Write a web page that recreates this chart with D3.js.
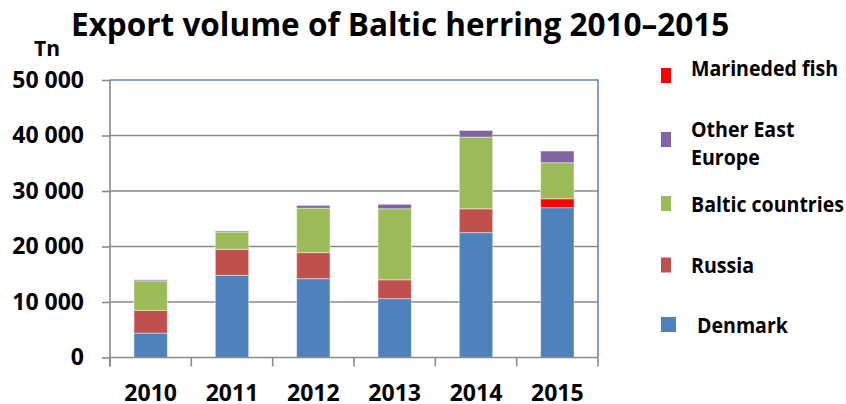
<!DOCTYPE html>
<html>
<head>
<meta charset="utf-8">
<script src="https://cdn.jsdelivr.net/npm/d3@7"></script>
<style>
  html, body { margin: 0; padding: 0; background: #fff; }
  svg { display: block; font-family: "Open Sans", "Noto Sans", sans-serif; font-weight: 700; }
</style>
</head>
<body>
<svg id="chart" width="846" height="404"></svg>
<script>
// Export volume of Baltic herring by destination, tonnes
const years = ["2010", "2011", "2012", "2013", "2014", "2015"];
const denmark  = [4400, 14800, 14200, 10600, 22500, 27000];
const russia   = [4100,  4700,  4700,  3400,  4300,     0];
const marined  = [   0,     0,     0,     0,     0,  1600];
const baltic   = [5300,  3100,  8000, 12800, 12900,  6500];
const otherEE  = [ 200,   200,   500,   800,  1200,  2100];
const yTicks = [0, 10000, 20000, 30000, 40000, 50000];

// stacking order, bottom to top
const series = [
  { key: "denmark", name: "Denmark",  values: denmark, color: "#4F81BD" },
  { key: "russia",  name: "Russia",   values: russia,  color: "#C0504D" },
  { key: "marined", name: "Marineded fish", values: marined, color: "#FF0000" },
  { key: "baltic",  name: "Baltic countries", values: baltic, color: "#9BBB59" },
  { key: "other",   name: "Other East Europe", values: otherEE, color: "#8064A2" }
];

// legend order, top to bottom
const legendItems = [
  { lines: ["Marineded fish"], color: "#FF0000" },
  { lines: ["Other East", "Europe"], color: "#8064A2" },
  { lines: ["Baltic countries"], color: "#9BBB59" },
  { lines: ["Russia"], color: "#C0504D" },
  { lines: ["Denmark"], color: "#4F81BD", big: true }
];

const svg = d3.select("#chart");
const plot = { left: 110, right: 598, top: 80, bottom: 357.5 };

const x = d3.scaleBand().domain(years).range([plot.left, plot.right]).padding(0);
const y = d3.scaleLinear().domain([0, 50000]).range([plot.bottom, plot.top]);
const barW = x.bandwidth() * 0.41;

const rows = years.map((yr, i) => {
  const r = { year: yr };
  series.forEach(s => r[s.key] = s.values[i]);
  return r;
});
const stacked = d3.stack().keys(series.map(s => s.key))(rows);

// horizontal gridlines
svg.append("g").selectAll("line")
  .data(yTicks.filter(t => t > 0 && t < 50000))
  .join("line")
  .attr("x1", plot.left).attr("x2", plot.right)
  .attr("y1", d => y(d)).attr("y2", d => y(d))
  .attr("stroke", "#8a8a8a").attr("stroke-width", 1.6);

// plot frame: top and right in blue
svg.append("path")
  .attr("d", `M${plot.left},${y(50000)}H${plot.right}V${plot.bottom}`)
  .attr("fill", "none").attr("stroke", "#5B87C5").attr("stroke-width", 1.6);

// bars
const colorOf = Object.fromEntries(series.map(s => [s.key, s.color]));
svg.append("g").selectAll("g")
  .data(stacked)
  .join("g")
  .attr("fill", d => colorOf[d.key])
  .selectAll("rect")
  .data(d => d.filter(p => p[1] - p[0] > 0))
  .join("rect")
  .attr("x", d => x(d.data.year) + (x.bandwidth() - barW) / 2)
  .attr("width", barW)
  .attr("y", d => y(d[1]))
  .attr("height", d => y(d[0]) - y(d[1]))
  .attr("stroke", "rgba(255,255,255,0.45)")
  .attr("stroke-width", 1);

// y axis
const yAxis = svg.append("g")
  .attr("transform", `translate(${plot.left},0)`)
  .call(d3.axisLeft(y).tickValues(yTicks).tickSize(8).tickPadding(18)
    .tickFormat(d => d3.format(",")(d).replace(/,/g, " ")));
yAxis.select(".domain").attr("stroke", "#8a8a8a").attr("stroke-width", 1.6)
  .attr("d", `M0,${plot.top}V${plot.bottom + 9}`);
yAxis.selectAll(".tick line").attr("stroke", "#8a8a8a").attr("stroke-width", 1.6);
yAxis.selectAll(".tick text")
  .attr("fill", "#000").attr("font-size", 23).attr("font-weight", 700)
  .attr("font-family", "Open Sans, sans-serif");

// x axis
const xAxis = svg.append("g")
  .attr("transform", `translate(0,${plot.bottom})`)
  .call(d3.axisBottom(x).tickSize(0));
xAxis.select(".domain").attr("stroke", "#8a8a8a").attr("stroke-width", 1.6)
  .attr("d", `M${plot.left},0H${plot.right}`);
xAxis.selectAll(".tick text")
  .attr("y", 43.5).attr("dy", 0)
  .attr("fill", "#000").attr("font-size", 23).attr("font-weight", 700)
  .attr("font-family", "Open Sans, sans-serif");
// category boundary ticks
svg.append("g").selectAll("line")
  .data(d3.range(years.length + 1))
  .join("line")
  .attr("x1", i => plot.left + i * x.step())
  .attr("x2", i => plot.left + i * x.step())
  .attr("y1", plot.bottom).attr("y2", plot.bottom + 9)
  .attr("stroke", "#8a8a8a").attr("stroke-width", 1.6);

// title and unit
svg.append("text")
  .attr("x", 71).attr("y", 36)
  .attr("font-size", 31.5).attr("fill", "#000")
  .text("Export volume of Baltic herring 2010–2015");
svg.append("text")
  .attr("x", 34).attr("y", 56)
  .attr("font-size", 21).attr("fill", "#000")
  .text("Tn");

// legend
const legendBase = [76, 136.5, 211.5, 273, 332.5];
const leg = svg.append("g");
const legTexts = [];
legendItems.forEach((item, i) => {
  const base = legendBase[i];
  const sqY = i === 0 ? base - 8 : (i === 1 ? base - 4.5 : base - 15.5);
  leg.append("rect")
    .attr("x", 661).attr("y", sqY)
    .attr("width", item.big ? 15 : 10).attr("height", 15)
    .attr("fill", item.color);
  item.lines.forEach((ln, j) => {
    legTexts.push(leg.append("text")
      .attr("x", item.big ? 697 : 691).attr("y", base + j * 28.5)
      .attr("font-size", 21).attr("fill", "#000")
      .text(ln));
  });
});
// condense legend lettering so the widest entry sits inside the frame
const widest = d3.max(legTexts, t => t.node().getComputedTextLength());
const k = Math.min(1, 153 / widest);
legTexts.forEach(t => {
  const w = t.node().getComputedTextLength();
  t.attr("textLength", w * k).attr("lengthAdjust", "spacingAndGlyphs");
});
</script>
</body>
</html>
